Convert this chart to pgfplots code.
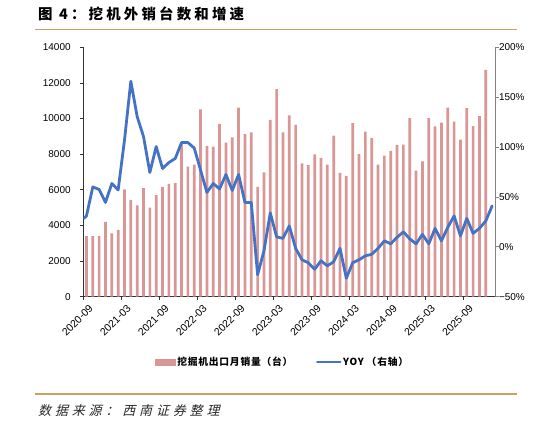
\documentclass[border=0pt]{standalone}
\usepackage{fontspec}
\setmainfont{Liberation Sans}
\newfontfamily\cjk{Noto Sans CJK SC}
\usepackage{pgfplots}
\usepackage{pgfplotstable}
\pgfplotsset{compat=1.18}
\definecolor{barc}{RGB}{217,150,148}
\definecolor{linec}{RGB}{68,114,196}
\definecolor{rulec}{RGB}{204,160,100}
\definecolor{axgray}{RGB}{130,130,130}

\pgfplotstableread{
x y
0.5 3400
1.5 3400
2.5 3400
3.5 4200
4.5 3550
5.5 3750
6.5 6030
7.5 5430
8.5 5130
9.5 6100
10.5 5000
11.5 5700
12.5 6160
13.5 6330
14.5 6380
15.5 8600
16.5 7300
17.5 7420
18.5 10520
19.5 8470
20.5 8430
21.5 9700
22.5 8650
23.5 8950
24.5 10620
25.5 9130
26.5 9230
27.5 6160
28.5 6980
29.5 9930
30.5 11650
31.5 9230
32.5 10180
33.5 9640
34.5 7490
35.5 7390
36.5 7990
37.5 7790
38.5 7410
39.5 9040
40.5 6950
41.5 6780
42.5 9750
43.5 8010
44.5 9260
45.5 8910
46.5 7410
47.5 7920
48.5 8180
49.5 8520
50.5 8530
51.5 10030
52.5 7080
53.5 7600
54.5 10030
55.5 9560
56.5 9770
57.5 10610
58.5 9830
59.5 8820
60.5 10580
61.5 9580
62.5 10140
63.5 12730
}\bardata

\pgfplotstableread{
x y
0.1 28.5
0.5 31
1.5 60
2.5 57.5
3.5 44.5
4.5 63.5
5.5 57
6.5 107
7.5 166
8.5 130.5
9.5 110.5
10.5 74.5
11.5 100.5
12.5 78.5
13.5 84.5
14.5 88.5
15.5 104.5
16.5 104.5
17.5 99
18.5 77
19.5 54.5
20.5 63.5
21.5 58
22.5 72.5
23.5 56.5
24.5 72.5
25.5 44.5
26.5 44.5
27.5 -28
28.5 -4
29.5 34
30.5 10
31.5 8.5
32.5 21
33.5 -1.5
34.5 -13
35.5 -16
36.5 -22.5
37.5 -14
38.5 -19
39.5 -15
40.5 -1.5
41.5 -31.5
42.5 -16
43.5 -13
44.5 -9
45.5 -7.5
46.5 -1.5
47.5 6
48.5 3
49.5 9.5
50.5 15
51.5 8
52.5 3
53.5 12.5
54.5 3
55.5 18.5
56.5 6
57.5 19.5
58.5 31
59.5 11
60.5 28.5
61.5 13.5
62.5 18.5
63.5 26
64.5 41
}\yoydata

\pgfplotsset{
  base/.style={
    at={(83.3bp,-296.7bp)}, anchor=south west,
    width=412bp, height=249.4bp, scale only axis,
    xmin=0, xmax=65,
    tick align=outside, major tick length=3.5bp,
    scaled y ticks=false,
    /pgf/number format/assume math mode=true,
    /pgf/number format/1000 sep={},
    tick label style={font=\fontsize{10}{12}\selectfont, inner sep=0pt},
  }
}

\begin{document}
\begin{tikzpicture}
\useasboundingbox (0,0) rectangle (538bp,-424bp);
\node[anchor=west, inner sep=0] at (38bp,-14bp) {\cjk\bfseries\fontsize{14.5}{17}\selectfont\addfontfeature{LetterSpace=22}图 4：挖机外销台数和增速};
\draw[rulec, line width=1.3bp] (35bp,-29.3bp) -- (517bp,-29.3bp);
\draw[rulec, line width=1.3bp] (35bp,-394bp) -- (517bp,-394bp);
\node[anchor=west, inner sep=0, text={rgb,255:red,40;green,40;blue,40}] at (38bp,-411bp) {\cjk\fontsize{13}{15}\selectfont\addfontfeature{LetterSpace=30,FakeSlant=0.25}数据来源：西南证券整理};

\begin{axis}[base,
  ymin=0, ymax=14000,
  axis y line*=left, axis x line*=bottom,
  axis line style={line width=0.8bp, black!80},
  ytick={0,2000,...,14000},
  xtick={0,6,...,60},
  xticklabels={2020-09,2021-03,2021-09,2022-03,2022-09,2023-03,2023-09,2024-03,2024-09,2025-03,2025-09},
  tick style={line width=0.8bp, black!80},
  yticklabel style={anchor=east, xshift=-9bp},
  xticklabel style={rotate=45, anchor=east, xshift=1bp, yshift=-10bp, font=\fontsize{10.5}{12}\selectfont},
]
\addplot[ybar, bar width=2.7bp, bar shift=0pt, fill=barc, draw=none] table[x=x,y=y]{\bardata};
\end{axis}

\begin{axis}[base,
  ymin=-50, ymax=200,
  axis y line*=right, axis x line=none,
  axis line style={line width=0.8bp, axgray},
  ytick={-50,0,...,200},
  yticklabels={−50\%,0\%,50\%,100\%,150\%,200\%},
  ytick style={line width=0.8bp, axgray},
  yticklabel style={anchor=west, xshift=0bp},
  legend columns=2,
  legend style={at={(0.4835,-0.262)}, anchor=center, draw=none, fill=none,
    font=\cjk\bfseries\fontsize{9.8}{11}\selectfont\addfontfeature{LetterSpace=8},
    /tikz/every even column/.append style={column sep=22bp},
    nodes={inner sep=1.5bp}},
]
\addlegendimage{legend image code/.code={\fill[barc] (0bp,-2.8bp) rectangle (20bp,2.8bp);}}
\addlegendentry{挖掘机出口月销量（台）}
\addplot[linec, line width=2.8bp, line join=round, line cap=round,
  legend image code/.code={\draw[linec, line width=2.6bp] (0bp,0bp) -- (23bp,0bp);}] table[x=x,y=y]{\yoydata};
\addlegendentry{YOY （右轴）}
\end{axis}
\end{tikzpicture}
\end{document}
